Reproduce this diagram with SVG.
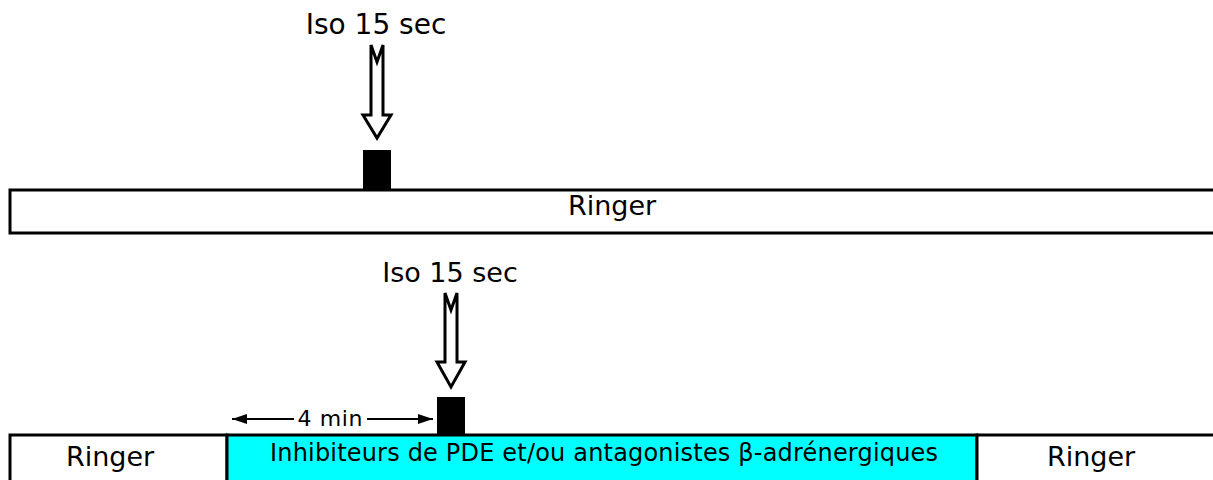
<svg xmlns="http://www.w3.org/2000/svg" width="1213" height="480" viewBox="0 0 1213 480">
<style>
.t{font-family:"DejaVu Sans","Liberation Sans",sans-serif;fill:#000}
.bar{stroke:#000;stroke-width:3}
.harrow{fill:#fff;stroke:#000;stroke-width:3;stroke-linejoin:miter}
.dim{stroke:#000;stroke-width:2;fill:none}
</style>
<defs>
<marker id="ah" viewBox="0 0 15 10" refX="15" refY="5" markerWidth="15" markerHeight="10" markerUnits="userSpaceOnUse" orient="auto-start-reverse">
<path d="M0,0 L15,5 L0,10 Z" fill="#000"/>
</marker>
</defs>
<rect width="1213" height="480" fill="#fff"/>
<g id="top-bar">
<rect class="bar" x="10" y="190" width="1220" height="43" fill="#fff"/>
<text class="t" x="612" y="215" font-size="27" text-anchor="middle">Ringer</text>
</g>
<g id="top-pulse">
<rect x="363" y="150" width="28" height="40" fill="#000"/>
<text class="t" x="376" y="34" font-size="28" text-anchor="middle">Iso 15 sec</text>
</g>
<g id="bottom-ringer-left">
<rect class="bar" x="10" y="435" width="217" height="47" fill="#fff"/>
<text class="t" x="110" y="466" font-size="27" text-anchor="middle">Ringer</text>
</g>
<g id="bottom-inhib">
<rect class="bar" x="227" y="435" width="750" height="47" fill="#00ffff"/>
<text class="t" x="604" y="461" font-size="24" text-anchor="middle" textLength="668">Inhibiteurs de PDE et/ou antagonistes β-adrénergiques</text>
</g>
<g id="bottom-ringer-right">
<rect class="bar" x="977" y="435" width="250" height="47" fill="#fff"/>
<text class="t" x="1091" y="466" font-size="27" text-anchor="middle">Ringer</text>
</g>
<g id="bottom-pulse">
<rect x="437" y="397" width="28" height="38" fill="#000"/>
<text class="t" x="450" y="282" font-size="27" text-anchor="middle">Iso 15 sec</text>
</g>
<g id="connectors">
<path class="harrow" d="M371,45 L377,62 L383,45 L383,115 L391,115 L377,138 L363,115 L371,115 Z"/>
<path class="harrow" d="M445,293 L451,310 L457,293 L457,362 L465,362 L451,387 L437,362 L445,362 Z"/>
<line class="dim" x1="232" y1="419" x2="294" y2="419" marker-start="url(#ah)"/>
<line class="dim" x1="367" y1="419" x2="433" y2="419" marker-end="url(#ah)"/>
<text class="t" x="330" y="426" font-size="22" text-anchor="middle" textLength="65">4 min</text>
</g>
</svg>
